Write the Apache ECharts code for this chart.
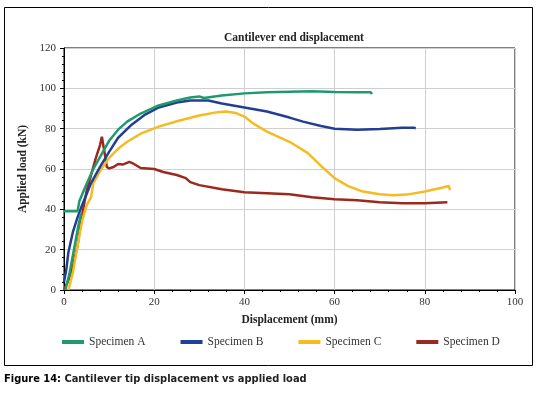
<!DOCTYPE html>
<html>
<head>
<meta charset="utf-8">
<script src="https://cdn.jsdelivr.net/npm/echarts@6/dist/echarts.min.js"></script>
<style>
  html, body { margin: 0; padding: 0; background: #fff; }
  #main { width: 538px; height: 396px; }
</style>
</head>
<body>
<div id="main"></div>
<script>
// displacement (mm), load (kN) pairs
var specA = [[0.3,0],[1.2,8],[2.2,20],[3.2,32],[3.8,38],null,
  [0,39],[3,39],[3.4,44],[4.5,50],[5.5,55],[6.5,60],[8,66],[10,74],[12,79.5],[14,83.5],[17,87.5],
  [21,91.5],[25,94],[28,95.5],[30,96],[31,95.2],[35,96.5],[40,97.5],[45,98],[50,98.3],[55,98.6],[60,98.2],[65,98],[68,98],[68.3,97.2]];
var specB = [[0,4],[0.5,10],[1,19],[2,29],[3,36],[4,42],[5,47.5],[6,53],[8,61],[10,68.5],[12,75.5],[15,82],
  [18,87],[21,90.5],[25,93],[28,94],[32,94],[35,92.5],[40,90.5],[45,88.5],[50,85.5],[53,83.5],[57,81.3],[60,80],
  [65,79.5],[70,79.8],[75,80.4],[77.5,80.5],[78,80.2]];
var specC = [[1,0],[2,9],[3,22],[4,34],[5,42],[6,46],[6.5,53],[8,59],[10,65.5],[12,70],[14,73.5],[17,77.5],
  [21,81],[25,83.7],[30,86.5],[34,88.2],[36,88.5],[38,87.8],[40,86],[42,82.5],[45,78.5],[50,73.5],[54,68],
  [57,61.5],[60,55.5],[63,51.5],[66,49],[70,47.5],[73,47],[76,47.3],[80,48.8],[84,50.8],[85.3,51.6],[85.6,49.5]];
var specD = [[0,0],[1,5],[2,12],[3,22],[4,37],[5,49],[6,57],[7,65],[8,72],[8.4,76],[9,68],[9.5,61],[10,60.3],
  [11,61],[12,62.5],[13,62.2],[14.5,63.5],[15.5,62.5],[17,60.5],[20,60],[22,58.5],[25,57],[27,55.5],[28,53.5],
  [30,52],[35,50],[40,48.5],[45,48],[50,47.5],[55,46],[60,45],[65,44.5],[70,43.5],[75,43],[80,43],[85,43.5]];

var seriesNames = ['Specimen A', 'Specimen B', 'Specimen C', 'Specimen D'];
var seriesColors = ['#1e9a6d', '#233f94', '#f6bb22', '#9a2a1e'];
var seriesData = [specA, specB, specC, specD];

var serif = 'Liberation Serif';
var capFont = '"DejaVu Sans Condensed", "Liberation Sans Narrow", Roboto, sans-serif';
var chart = echarts.init(document.getElementById('main'));

var series = seriesData.map(function (d, i) {
  return {
    name: seriesNames[i],
    type: 'line',
    data: d,
    showSymbol: false,
    connectNulls: false,
    lineStyle: { width: 2.5, color: seriesColors[i] },
    itemStyle: { color: seriesColors[i] },
    z: 4 - i
  };
});

chart.setOption({
  animation: false,
  title: {
    text: 'Cantilever end displacement',
    left: 289, top: 27, textAlign: 'center',
    textStyle: { fontFamily: serif, fontSize: 11.5, fontWeight: 'bold', color: '#222' }
  },
  legend: {
    left: 57, top: 331,
    icon: 'rect', itemWidth: 22, itemHeight: 4, itemGap: 35,
    textStyle: { fontFamily: serif, fontSize: 11.5, color: '#333' },
    data: seriesNames
  },
  grid: { left: 64, right: 23, top: 48, bottom: 106, show: true, borderColor: '#000', borderWidth: 1 },
  xAxis: {
    type: 'value', min: 0, max: 100, interval: 20,
    name: 'Displacement (mm)', nameLocation: 'middle', nameGap: 24,
    nameTextStyle: { fontFamily: serif, fontSize: 11.5, fontWeight: 'bold', color: '#222' },
    axisLine: { lineStyle: { color: '#000' } },
    axisTick: { length: 4, lineStyle: { color: '#000' } },
    minorTick: { show: true, splitNumber: 5, length: 2, lineStyle: { color: '#000' } },
    axisLabel: { fontFamily: serif, fontSize: 11, color: '#333', margin: 7 },
    splitLine: { lineStyle: { color: '#cfcfcf' } }
  },
  yAxis: {
    type: 'value', min: 0, max: 120, interval: 20,
    name: 'Applied load (kN)', nameLocation: 'middle', nameGap: 32,
    nameTextStyle: { fontFamily: serif, fontSize: 11.5, fontWeight: 'bold', color: '#222' },
    axisLine: { show: true, lineStyle: { color: '#000' } },
    axisTick: { show: true, length: 4, lineStyle: { color: '#000' } },
    minorTick: { show: true, splitNumber: 5, length: 2, lineStyle: { color: '#000' } },
    axisLabel: { fontFamily: serif, fontSize: 11, color: '#333', margin: 8 },
    splitLine: { lineStyle: { color: '#cfcfcf' } }
  },
  graphic: [
    { type: 'rect', shape: { x: 4.5, y: 7.5, width: 528, height: 358 },
      style: { fill: 'none', stroke: '#000', lineWidth: 1 }, silent: true },
    { type: 'text', left: 4, top: 373,
      style: {
        text: '{b|Figure 14:} {n|Cantilever tip displacement vs applied load}',
        rich: {
          b: { fontFamily: capFont, fontSize: 11, fontWeight: 'bold', fill: '#000' },
          n: { fontFamily: capFont, fontSize: 11, fontWeight: 'bold', fill: '#222' }
        }
      } }
  ],
  series: series
});
</script>
</body>
</html>
